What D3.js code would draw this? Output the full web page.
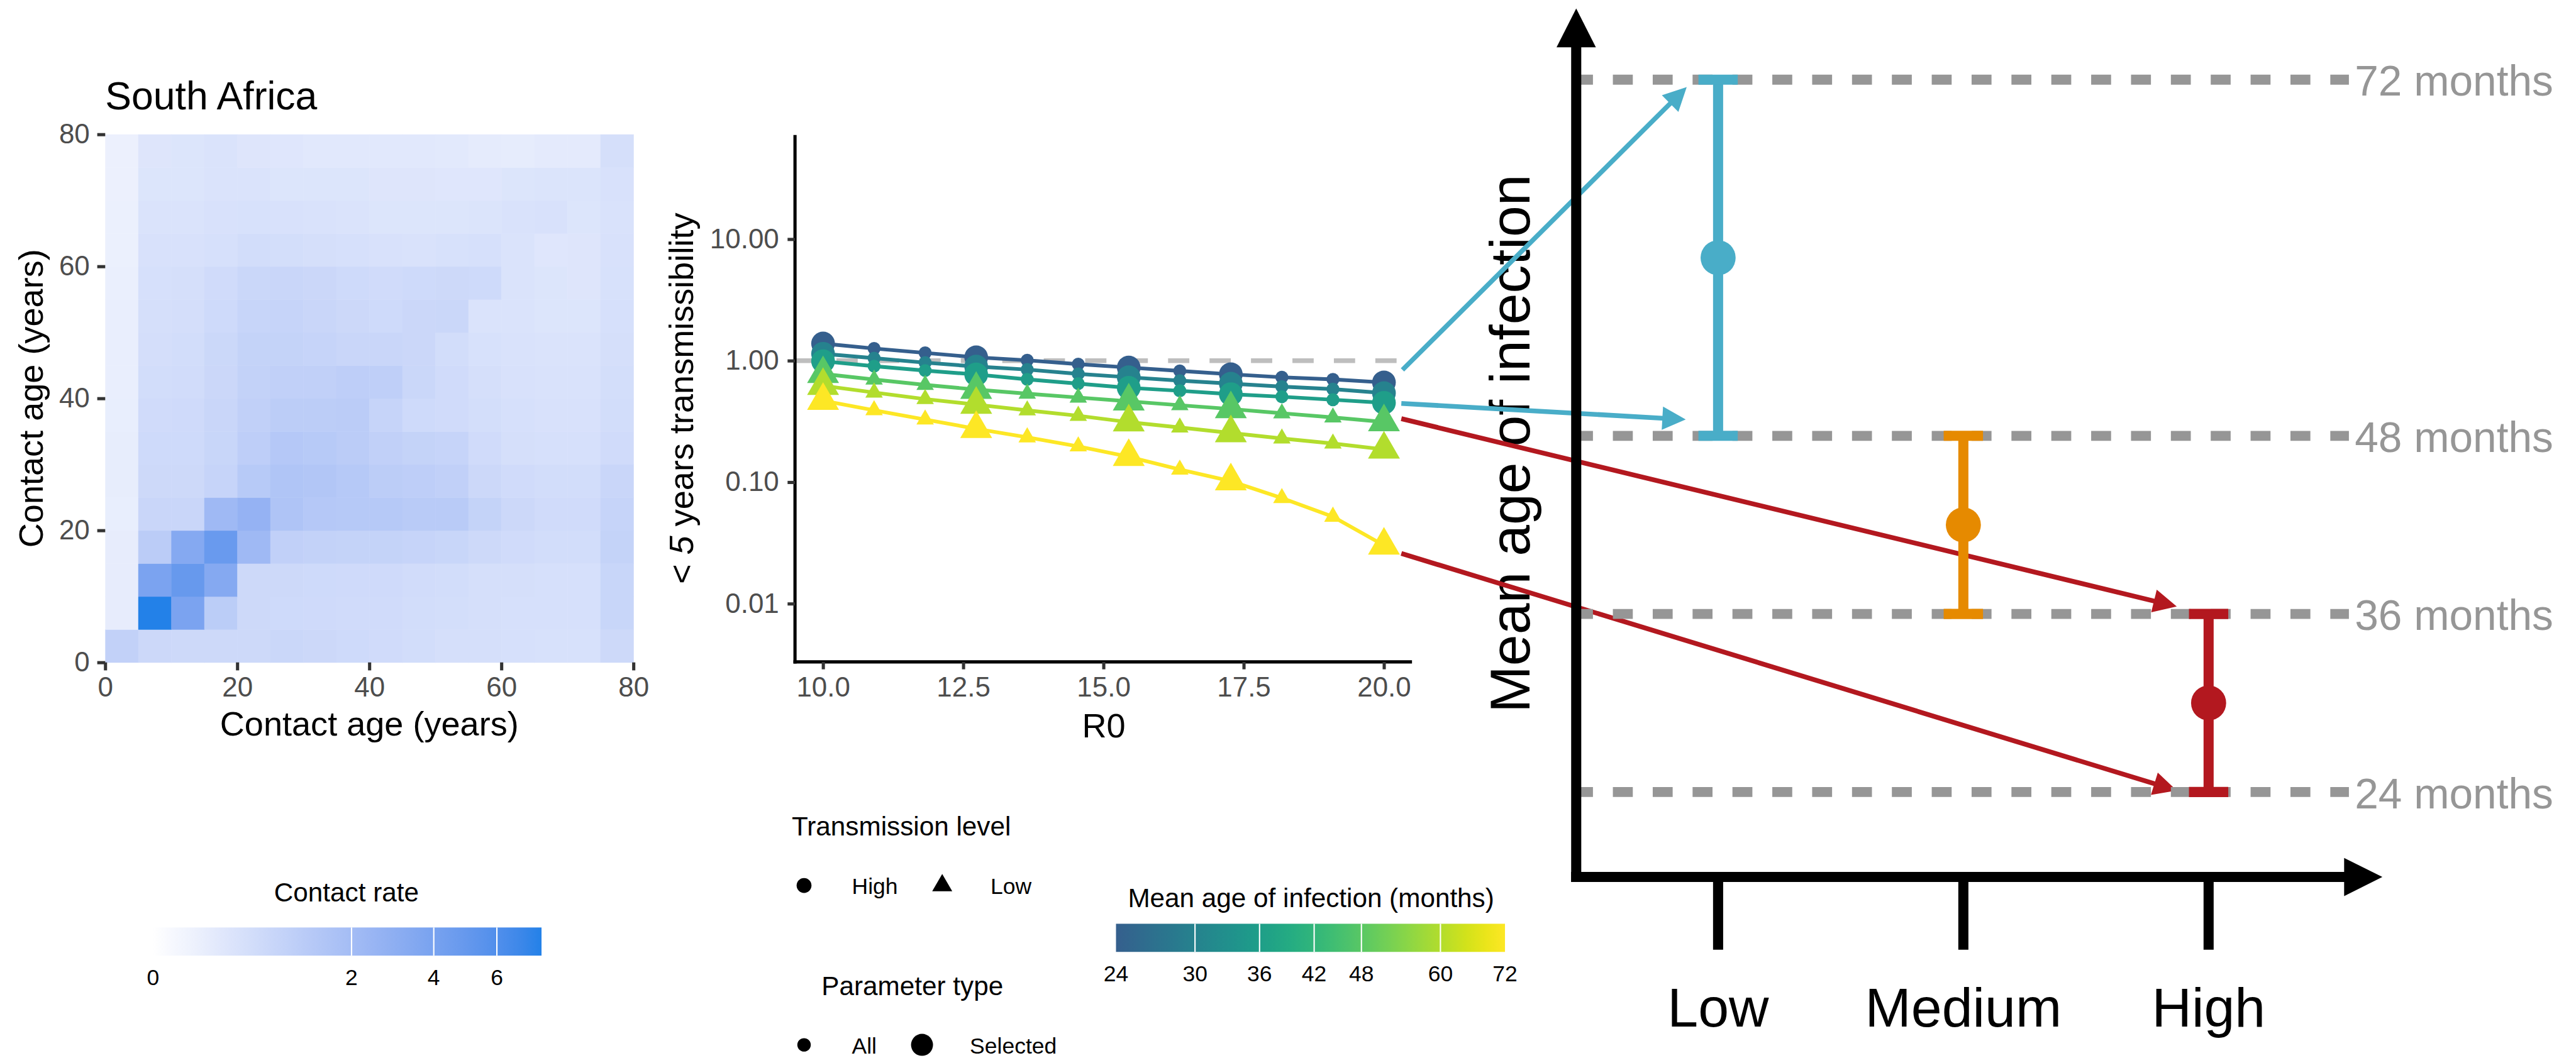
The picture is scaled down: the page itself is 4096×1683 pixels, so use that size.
<!DOCTYPE html>
<html>
<head>
<meta charset="utf-8">
<script src="https://cdn.jsdelivr.net/npm/d3@7"></script>
<style>
  body { margin: 0; background: #fff; }
  svg { display: block; font-family: "Liberation Sans", Arial, Helvetica, sans-serif; }
</style>
</head>
<body>
<div id="chart"></div>
<script>
// ---- data ----
// contact matrix, 5-year bins; rows = contact age (y) from 0-5 upwards, cols = contact age (x)
const ageBins = [0, 5, 10, 15, 20, 25, 30, 35, 40, 45, 50, 55, 60, 65, 70, 75];
const contactRates = [
  [0.93, 0.65, 0.62, 0.62, 0.62, 0.70, 0.65, 0.60, 0.55, 0.50, 0.45, 0.45, 0.42, 0.40, 0.40, 0.62],
  [0.15, 7.66, 3.90, 1.12, 0.62, 0.60, 0.58, 0.56, 0.55, 0.50, 0.48, 0.45, 0.42, 0.42, 0.42, 0.75],
  [0.15, 3.90, 4.90, 3.40, 0.62, 0.62, 0.60, 0.58, 0.58, 0.52, 0.50, 0.45, 0.45, 0.42, 0.42, 0.75],
  [0.15, 1.15, 3.40, 4.80, 2.20, 0.95, 0.90, 0.85, 0.85, 0.80, 0.75, 0.62, 0.55, 0.50, 0.50, 0.85],
  [0.13, 0.72, 0.72, 2.20, 2.65, 1.55, 1.35, 1.30, 1.30, 1.20, 1.20, 0.85, 0.65, 0.55, 0.55, 0.80],
  [0.14, 0.62, 0.62, 0.80, 1.25, 1.50, 1.45, 1.30, 1.10, 1.05, 0.95, 0.65, 0.55, 0.50, 0.50, 0.72],
  [0.14, 0.60, 0.60, 0.75, 1.05, 1.35, 1.25, 1.15, 0.95, 0.85, 0.80, 0.55, 0.45, 0.42, 0.42, 0.55],
  [0.13, 0.55, 0.58, 0.72, 0.95, 1.10, 1.10, 1.15, 0.80, 0.60, 0.55, 0.48, 0.42, 0.38, 0.38, 0.50],
  [0.12, 0.50, 0.52, 0.68, 0.90, 0.95, 0.95, 1.05, 1.00, 0.70, 0.55, 0.45, 0.38, 0.36, 0.36, 0.48],
  [0.12, 0.46, 0.50, 0.66, 0.85, 0.85, 0.80, 0.72, 0.72, 0.68, 0.50, 0.40, 0.36, 0.34, 0.34, 0.44],
  [0.12, 0.44, 0.46, 0.60, 0.78, 0.80, 0.72, 0.65, 0.60, 0.68, 0.70, 0.34, 0.34, 0.30, 0.30, 0.42],
  [0.11, 0.42, 0.44, 0.55, 0.70, 0.72, 0.68, 0.60, 0.55, 0.60, 0.62, 0.60, 0.34, 0.30, 0.28, 0.40],
  [0.10, 0.38, 0.38, 0.42, 0.50, 0.48, 0.44, 0.42, 0.38, 0.36, 0.40, 0.42, 0.34, 0.26, 0.28, 0.38],
  [0.10, 0.34, 0.34, 0.38, 0.40, 0.38, 0.36, 0.34, 0.30, 0.30, 0.30, 0.32, 0.36, 0.38, 0.30, 0.36],
  [0.09, 0.30, 0.30, 0.34, 0.34, 0.30, 0.30, 0.30, 0.28, 0.28, 0.26, 0.26, 0.30, 0.32, 0.32, 0.38],
  [0.09, 0.28, 0.30, 0.34, 0.28, 0.26, 0.23, 0.23, 0.23, 0.23, 0.21, 0.17, 0.16, 0.18, 0.18, 0.44]
];
const rateMax = 7.66;
const rateBreaks = [0, 2, 4, 6];

// transmissibility vs R0
const r0Values = [10, 10.91, 11.82, 12.73, 13.64, 14.55, 15.45, 16.36, 17.27, 18.18, 19.09, 20];
const selected = [true, false, false, true, false, false, true, false, true, false, false, true];
const seriesMeanAge = [24, 30, 36, 48, 60, 72];
const seriesLevel = ["High", "High", "High", "Low", "Low", "Low"];
const trans24 = [1.384, 1.26, 1.159, 1.066, 1.007, 0.937, 0.878, 0.824, 0.773, 0.730, 0.701, 0.662];
const trans30 = [1.14, 1.048, 0.963, 0.895, 0.845, 0.779, 0.730, 0.685, 0.647, 0.612, 0.583, 0.541];
const trans36 = [0.99, 0.901, 0.829, 0.770, 0.701, 0.647, 0.598, 0.565, 0.530, 0.505, 0.477, 0.450];
const trans48 = [0.779, 0.699, 0.632, 0.578, 0.535, 0.497, 0.463, 0.430, 0.400, 0.369, 0.341, 0.313];
const trans60 = [0.622, 0.547, 0.483, 0.435, 0.390, 0.352, 0.312, 0.282, 0.254, 0.229, 0.208, 0.186];
const trans72 = [0.469, 0.391, 0.328, 0.275, 0.234, 0.197, 0.162, 0.127, 0.102, 0.074, 0.052, 0.0302];
const seriesValues = [trans24, trans30, trans36, trans48, trans60, trans72];
const r0Ticks = [10, 12.5, 15, 17.5, 20];
const transTicks = [10, 1, 0.1, 0.01];
const ageBreaks = [24, 30, 36, 42, 48, 60, 72];

// schematic
const levels = ["Low", "Medium", "High"];
const levelMean = [60, 42, 30];
const levelLower = [48, 36, 24];
const levelUpper = [72, 48, 36];
const levelColors = ["#49ADC8", "#E68A00", "#B3181F"];
const refMonths = [72, 48, 36, 24];
// arrows: from (R0, transmissibility) in the middle panel to (level position, months) in the schematic
const arrowFromR0 = [20.33, 20.31, 20.31, 20.31];
const arrowFromValue = [0.84, 0.445, 0.333, 0.0259];
const arrowToPos = [-0.128, -0.132, 1.87, 1.87];
const arrowToMonths = [71.5, 49.1, 36.5, 24.1];
const arrowColors = ["#49ADC8", "#49ADC8", "#B3181F", "#B3181F"];

// ---- drawing (reference pixel units, scaled to window) ----
const W = 4096, H = 1683, S = 0.845;
const svg = d3.select("#chart").append("svg").attr("width", W).attr("height", H);
const root = svg.append("g").attr("transform", `scale(${S})`);

const tickGrey = "#4D4D4D", tickLine = "#333333";

// ===== heatmap =====
const hx = d3.scaleLinear().domain([0, 80]).range([198, 1192]);
const hy = d3.scaleLinear().domain([0, 80]).range([1247, 253]);
const rateColor = v => d3.interpolateLab("#ffffff", "#2381E8")(Math.sqrt(v / rateMax));

const cells = [];
contactRates.forEach((row, r) => row.forEach((v, c) => cells.push({ x: ageBins[c], y: ageBins[r], v })));
root.append("g").selectAll("rect").data(cells).join("rect")
  .attr("x", d => hx(d.x)).attr("y", d => hy(d.y + 5))
  .attr("width", hx(5) - hx(0) + 0.6).attr("height", hy(0) - hy(5) + 0.6)
  .attr("fill", d => rateColor(d.v));

const hTicks = [0, 20, 40, 60, 80];
const hAxX = root.append("g").attr("transform", "translate(0,1247)")
  .call(d3.axisBottom(hx).tickValues(hTicks).tickSize(15).tickPadding(12).tickFormat(d3.format("d")));
const hAxY = root.append("g").attr("transform", "translate(198,0)")
  .call(d3.axisLeft(hy).tickValues(hTicks).tickSize(15).tickPadding(14).tickFormat(d3.format("d")));
[hAxX, hAxY].forEach(a => {
  a.select(".domain").remove();
  a.selectAll(".tick line").attr("stroke", tickLine).attr("stroke-width", 6);
  a.selectAll(".tick text").attr("fill", tickGrey).attr("font-size", 52).attr("font-family", null);
});
hAxX.selectAll(".tick text").attr("dy", "0.71em");
root.append("text").attr("x", 198).attr("y", 206).attr("font-size", 74).text("South Africa");
root.append("text").attr("x", 695).attr("y", 1385).attr("text-anchor", "middle").attr("font-size", 64).text("Contact age (years)");
root.append("text").attr("transform", "translate(80,750) rotate(-90)").attr("text-anchor", "middle").attr("font-size", 64).text("Contact age (years)");

// contact rate legend
const rateLeg = d3.scaleSqrt().domain([0, rateMax]).range([288, 1019]);
const defs = svg.append("defs");
const g1 = defs.append("linearGradient").attr("id", "rateGrad");
d3.range(0, 1.0001, 0.05).forEach(t => g1.append("stop").attr("offset", t).attr("stop-color", rateColor(rateLeg.invert(288 + t * 731))));
root.append("rect").attr("x", 288).attr("y", 1746).attr("width", 731).attr("height", 53).attr("fill", "url(#rateGrad)");
root.append("g").selectAll("line").data(rateBreaks.filter(d => d > 0)).join("line")
  .attr("x1", d => rateLeg(d)).attr("x2", d => rateLeg(d)).attr("y1", 1746).attr("y2", 1799)
  .attr("stroke", "#fff").attr("stroke-width", 2.5);
root.append("g").selectAll("text").data(rateBreaks).join("text")
  .attr("x", d => rateLeg(d)).attr("y", 1855).attr("text-anchor", "middle").attr("font-size", 42).text(d => d);
root.append("text").attr("x", 652).attr("y", 1697).attr("text-anchor", "middle").attr("font-size", 50).text("Contact rate");

// ===== transmissibility panel =====
const mx = d3.scaleLinear().domain([9.5, 20.5]).range([1496, 2657]);
const my = d3.scaleLog().domain([Math.pow(10, -2.479), Math.pow(10, 1.858)]).range([1246, 254]);
const ageT = d3.scaleLog().domain([24, 72]).range([0, 1]);
const ageColor = m => d3.interpolateViridis(0.3 + 0.7 * ageT(m));

root.append("line").attr("x1", 1496).attr("x2", 2657).attr("y1", my(1)).attr("y2", my(1))
  .attr("stroke", "#BEBEBE").attr("stroke-width", 9).attr("stroke-dasharray", "40 38");

const mAxX = root.append("g").attr("transform", "translate(0,1246)")
  .call(d3.axisBottom(mx).tickValues(r0Ticks).tickSize(14).tickPadding(14).tickFormat(d3.format(".1f")));
const mAxY = root.append("g").attr("transform", "translate(1496,0)")
  .call(d3.axisLeft(my).tickValues(transTicks).tickSize(14).tickPadding(16).tickFormat(d3.format(".2f")));
[mAxX, mAxY].forEach(a => {
  a.select(".domain").attr("stroke", "#000").attr("stroke-width", 6);
  a.selectAll(".tick line").attr("stroke", tickLine).attr("stroke-width", 6);
  a.selectAll(".tick text").attr("fill", tickGrey).attr("font-size", 52).attr("font-family", null);
});
mAxX.select(".domain").attr("d", "M1493,0H2657");
mAxY.select(".domain").attr("d", "M0,254V1249");
mAxX.selectAll(".tick text").attr("dy", "0.71em");
root.append("text").attr("x", 2077).attr("y", 1388).attr("text-anchor", "middle").attr("font-size", 64).text("R0");
const yt = root.append("text").attr("transform", "translate(1304,750) rotate(-90)").attr("text-anchor", "middle").attr("font-size", 64);
yt.append("tspan").text("< ");
yt.append("tspan").attr("font-style", "italic").text("5");
yt.append("tspan").text(" years transmissibility");

const line = d3.line().x((d, i) => mx(r0Values[i])).y(d => my(d));
root.append("g").selectAll("path").data(seriesValues).join("path")
  .attr("d", d => line(d)).attr("fill", "none")
  .attr("stroke", (d, k) => ageColor(seriesMeanAge[k])).attr("stroke-width", 7);

function tri(cx, cy, r) {
  const h = r * Math.sqrt(3) / 2;
  return `M${cx},${cy - r}L${cx + h},${cy + r / 2}L${cx - h},${cy + r / 2}Z`;
}
const pts = root.append("g");
seriesValues.forEach((vals, k) => {
  const col = ageColor(seriesMeanAge[k]);
  vals.forEach((v, i) => {
    const R = selected[i] ? 22.3 : 12.2;
    const cx = mx(r0Values[i]), cy = my(v);
    if (seriesLevel[k] === "High") pts.append("circle").attr("cx", cx).attr("cy", cy).attr("r", R).attr("fill", col);
    else pts.append("path").attr("d", tri(cx, cy, R * 1.555)).attr("fill", col);
  });
});

// legends for shape / size
root.append("text").attr("x", 1490).attr("y", 1573).attr("font-size", 50).text("Transmission level");
root.append("circle").attr("cx", 1513).attr("cy", 1667).attr("r", 14);
root.append("text").attr("x", 1603).attr("y", 1683).attr("font-size", 42).text("High");
root.append("path").attr("d", tri(1773, 1667, 21.8));
root.append("text").attr("x", 1864).attr("y", 1683).attr("font-size", 42).text("Low");
root.append("text").attr("x", 1546).attr("y", 1873).attr("font-size", 50).text("Parameter type");
root.append("circle").attr("cx", 1513).attr("cy", 1967).attr("r", 12.7);
root.append("text").attr("x", 1603).attr("y", 1983).attr("font-size", 42).text("All");
root.append("circle").attr("cx", 1735).attr("cy", 1967).attr("r", 20.7);
root.append("text").attr("x", 1825).attr("y", 1983).attr("font-size", 42).text("Selected");

// mean age colour bar
const ageLeg = d3.scaleLog().domain([24, 72]).range([2100, 2832]);
const g2 = defs.append("linearGradient").attr("id", "ageGrad");
d3.range(0, 1.0001, 0.05).forEach(t => g2.append("stop").attr("offset", t).attr("stop-color", d3.interpolateViridis(0.3 + 0.7 * t)));
root.append("rect").attr("x", 2100).attr("y", 1739).attr("width", 732).attr("height", 53).attr("fill", "url(#ageGrad)");
root.append("g").selectAll("line").data(ageBreaks.slice(1, -1)).join("line")
  .attr("x1", d => ageLeg(d)).attr("x2", d => ageLeg(d)).attr("y1", 1739).attr("y2", 1792)
  .attr("stroke", "#fff").attr("stroke-width", 2.5);
root.append("g").selectAll("text").data(ageBreaks).join("text")
  .attr("x", d => ageLeg(d)).attr("y", 1847).attr("text-anchor", "middle").attr("font-size", 42).text(d => d);
root.append("text").attr("x", 2467).attr("y", 1708).attr("text-anchor", "middle").attr("font-size", 50).text("Mean age of infection (months)");

// ===== schematic =====
const sx = d3.scaleLinear().domain([0, 2]).range([3233, 4156]);
const sy = d3.scaleLinear().domain([24, 72]).range([1491, 150]);
const axisX0 = 2966, axisY0 = 1651;

root.append("text").attr("transform", "translate(2878,835) rotate(-90)").attr("text-anchor", "middle")
  .attr("font-size", 106).text("Mean age of infection");

// arrows from panel to schematic
const arrowG = root.append("g");
arrowFromR0.forEach((r0, k) => {
  const x1 = mx(r0), y1 = my(arrowFromValue[k]);
  const x2 = sx(arrowToPos[k]), y2 = sy(arrowToMonths[k]);
  const a = Math.atan2(y2 - y1, x2 - x1), L = 44, hw = 22;
  const bx = x2 - L * Math.cos(a), by = y2 - L * Math.sin(a);
  arrowG.append("line").attr("x1", x1).attr("y1", y1).attr("x2", bx + 4 * Math.cos(a)).attr("y2", by + 4 * Math.sin(a))
    .attr("stroke", arrowColors[k]).attr("stroke-width", 9);
  arrowG.append("path").attr("fill", arrowColors[k])
    .attr("d", `M${x2},${y2}L${bx - hw * Math.sin(a)},${by + hw * Math.cos(a)}L${bx + hw * Math.sin(a)},${by - hw * Math.cos(a)}Z`);
});

// reference dashed lines + labels
root.append("g").selectAll("line").data(refMonths).join("line")
  .attr("x1", 2960).attr("x2", 4420).attr("y1", d => sy(d)).attr("y2", d => sy(d))
  .attr("stroke", "#969696").attr("stroke-width", 18.7).attr("stroke-dasharray", "37.5 37.5");
root.append("g").selectAll("text").data(refMonths).join("text")
  .attr("x", 4431).attr("y", d => sy(d)).attr("dy", "0.38em").attr("font-size", 80).attr("fill", "#969696")
  .text(d => d + " months");

// error bars
const eb = root.append("g").selectAll("g").data(levels).join("g");
eb.append("line").attr("x1", (d, i) => sx(i)).attr("x2", (d, i) => sx(i))
  .attr("y1", (d, i) => sy(levelUpper[i])).attr("y2", (d, i) => sy(levelLower[i]))
  .attr("stroke", (d, i) => levelColors[i]).attr("stroke-width", 19);
eb.each(function (d, i) {
  [levelUpper[i], levelLower[i]].forEach(m => d3.select(this).append("line")
    .attr("x1", sx(i) - 37).attr("x2", sx(i) + 37).attr("y1", sy(m)).attr("y2", sy(m))
    .attr("stroke", levelColors[i]).attr("stroke-width", 19));
});
eb.append("circle").attr("cx", (d, i) => sx(i)).attr("cy", (d, i) => sy(levelMean[i])).attr("r", 33)
  .attr("fill", (d, i) => levelColors[i]);

// axes with arrow heads
root.append("line").attr("x1", axisX0).attr("x2", axisX0).attr("y1", axisY0 + 9.5).attr("y2", 88).attr("stroke", "#000").attr("stroke-width", 19);
root.append("path").attr("d", `M${axisX0},16L${axisX0 + 37},89L${axisX0 - 37},89Z`);
root.append("line").attr("x1", axisX0 - 9.5).attr("x2", 4412).attr("y1", axisY0).attr("y2", axisY0).attr("stroke", "#000").attr("stroke-width", 19);
root.append("path").attr("d", `M4483,${axisY0}L4411,${axisY0 - 36}L4411,${axisY0 + 36}Z`);
root.append("g").selectAll("line").data(levels).join("line")
  .attr("x1", (d, i) => sx(i)).attr("x2", (d, i) => sx(i)).attr("y1", axisY0).attr("y2", 1788)
  .attr("stroke", "#000").attr("stroke-width", 19);
root.append("g").selectAll("text").data(levels).join("text")
  .attr("x", (d, i) => sx(i)).attr("y", 1933).attr("text-anchor", "middle").attr("font-size", 104).text(d => d);
</script>
</body>
</html>
